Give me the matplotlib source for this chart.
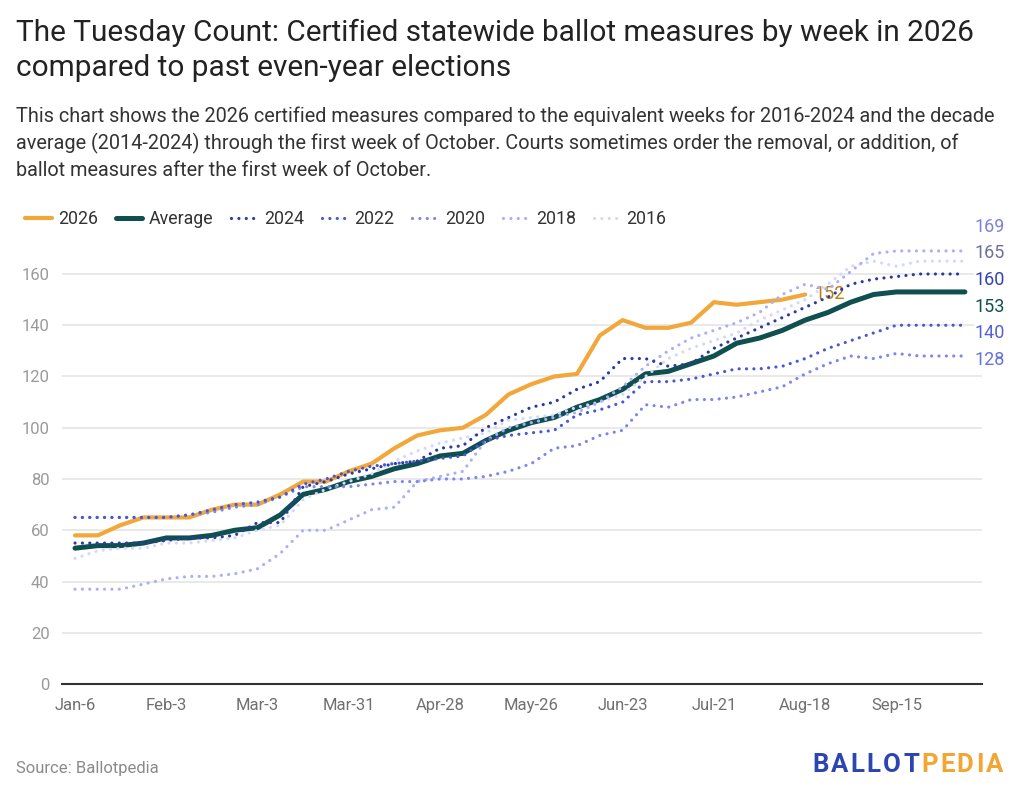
import matplotlib
matplotlib.use("Agg")
import matplotlib.pyplot as plt
import numpy as np

plt.rcParams['font.family'] = ['Roboto', 'DejaVu Sans']

# ---------------- data ----------------
week_index = list(range(40))  # weekly Tuesdays, Jan-6 .. Oct-6
tick_positions = [0, 4, 8, 12, 16, 20, 24, 28, 32, 36]
tick_labels = ["Jan-6", "Feb-3", "Mar-3", "Mar-31", "Apr-28", "May-26",
               "Jun-23", "Jul-21", "Aug-18", "Sep-15"]

y2026 = [58, 58, 62, 65, 65, 65, 68, 70, 70, 74, 79, 79, 83, 86, 92, 97, 99, 100,
         105, 113, 117, 120, 121, 136, 142, 139, 139, 141, 149, 148, 149, 150, 152]
avg = [53, 54, 54, 55, 57, 57, 58, 60, 61, 66, 74, 76, 79, 81, 84, 86, 89, 90, 95, 99,
       102, 104, 108, 111, 115, 121, 122, 125, 128, 133, 135, 138, 142, 145, 149, 152,
       153, 153, 153, 153]
y2024 = [55, 55, 55, 55, 56, 57, 57, 58, 63, 63, 77, 79, 82, 84, 86, 87, 92, 93, 100, 104,
         108, 110, 115, 118, 127, 127, 124, 125, 131, 135, 139, 143, 147, 151, 156, 158,
         159, 160, 160, 160]
y2022 = [65, 65, 65, 65, 65, 66, 68, 70, 71, 73, 78, 80, 83, 85, 86, 87, 88, 89, 95, 97,
         98, 99, 105, 107, 110, 118, 118, 119, 121, 123, 123, 124, 127, 131, 134, 137,
         140, 140, 140, 140]
y2020 = [65, 65, 65, 65, 65, 66, 67, 69, 70, 73, 77, 77, 77, 78, 79, 79, 80, 80, 81, 83,
         86, 92, 93, 97, 99, 109, 108, 111, 111, 112, 114, 116, 121, 125, 128, 127, 129,
         128, 128, 128]
y2018 = [37, 37, 37, 39, 41, 42, 42, 43, 45, 51, 60, 60, 64, 68, 69, 79, 81, 83, 95, 100,
         102, 104, 106, 110, 116, 124, 130, 135, 138, 141, 145, 152, 156, 154, 161, 168,
         169, 169, 169, 169]
y2016 = [49, 52, 53, 53, 55, 55, 56, 57, 60, 62, 72, 76, 79, 82, 87, 91, 94, 96, 98, 103,
         104, 105, 108, 110, 113, 120, 127, 131, 134, 137, 142, 146, 150, 156, 163, 165,
         163, 165, 165, 165]

series_names = ["2026", "Average", "2024", "2022", "2020", "2018", "2016"]

# ---------------- style ----------------
c2026 = "#f2a73b"
cavg = "#0f4f50"
dotted_colors = {"2024": "#2b3aa0", "2022": "#4858d2", "2020": "#7c87ec",
                 "2018": "#aab0f6", "2016": "#d5d8fb"}
label_colors = {"2018": "#7c82d8", "2016": "#6d6f9c", "2024": "#3343ae",
                "Average": "#0f5051", "2022": "#5462d4", "2020": "#6673dc"}

fig = plt.figure(figsize=(10.24, 7.96), dpi=100)
W, H = 1024, 796
ax = fig.add_axes([62 / W, (H - 684) / H, 920 / W, 440.75 / H])

x = np.array(week_index)
dot = (0, (0.01, 2.3))
lines = {}
lines["2026"], = ax.plot(x[:len(y2026)], y2026, color=c2026, lw=3.0,
                         solid_capstyle='round', solid_joinstyle='round', zorder=3)
lines["Average"], = ax.plot(x, avg, color=cavg, lw=3.6,
                            solid_capstyle='round', solid_joinstyle='round', zorder=3)
series_data = {"2024": y2024, "2022": y2022, "2020": y2020, "2018": y2018, "2016": y2016}
zorders = {"2016": 4, "2018": 5, "2020": 6, "2022": 7, "2024": 8}
for name in ["2016", "2018", "2020", "2022", "2024"]:
    ln, = ax.plot(x, series_data[name], color=dotted_colors[name], lw=2.3,
                  linestyle=dot, dash_capstyle='round', zorder=zorders[name])
    lines[name] = ln

ax.set_xlim(-0.57, 39.75)
ax.set_ylim(0, 172)
ax.set_yticks(range(0, 161, 20))
ax.set_xticks(tick_positions)
ax.set_xticklabels(tick_labels)
ax.tick_params(axis='both', length=0)
ax.tick_params(axis='y', pad=9, labelsize=12, labelcolor="#9a9a9a")
ax.tick_params(axis='x', pad=10, labelsize=12, labelcolor="#707070")
for t in ax.get_yticklabels():
    t.set_horizontalalignment('right')
ax.grid(axis='y', color="#e3e3e3", lw=1.1, zorder=0)
ax.set_axisbelow(True)
for s in ["top", "right", "left"]:
    ax.spines[s].set_visible(False)
ax.spines["bottom"].set_color("#333333")
ax.spines["bottom"].set_linewidth(1.5)
ax.spines["bottom"].set_zorder(2)

# end labels with simple cluster de-overlap
end_names = ["2020", "2022", "Average", "2024", "2016", "2018"]
end_vals = {"2024": y2024[-1], "2022": y2022[-1], "2020": y2020[-1],
            "2018": y2018[-1], "2016": y2016[-1], "Average": avg[-1]}
order = sorted(end_names, key=lambda n: end_vals[n])
gap = 10.4
clusters = [[n] for n in order]
changed = True
while changed:
    changed = False
    pos = []
    for cl in clusters:
        m = np.mean([end_vals[n] for n in cl])
        k = len(cl)
        pos.append([m + (i - (k - 1) / 2) * gap for i in range(k)])
    for i in range(len(clusters) - 1):
        if pos[i + 1][0] - pos[i][-1] < gap:
            clusters[i] = clusters[i] + clusters[i + 1]
            del clusters[i + 1]
            changed = True
            break
label_pos = {}
for cl in clusters:
    m = np.mean([end_vals[n] for n in cl])
    k = len(cl)
    for i, n in enumerate(cl):
        label_pos[n] = m + (i - (k - 1) / 2) * gap
for n in end_names:
    ax.annotate(str(end_vals[n]), xy=(x[-1], label_pos[n]), xytext=(7, 0),
                textcoords='offset points', va='center', ha='left',
                fontsize=13, color=label_colors[n], annotation_clip=False,
                bbox=dict(boxstyle='square,pad=0.05', fc='white', ec='none'))

ax.annotate(str(y2026[-1]), xy=(x[len(y2026) - 1], y2026[-1]), xytext=(7, 0),
            textcoords='offset points', va='center', ha='left', fontsize=13,
            color="#bd7a12")

# legend
handles = [lines[n] for n in series_names]
fig.legend(handles, series_names, loc='upper left',
           bbox_to_anchor=(9 / W, 1 - 194 / H), ncol=7, frameon=False,
           handlelength=1.5, handletextpad=0.35, columnspacing=1.0,
           fontsize=12.8, labelcolor="#333333")

# titles
fig.text(16 / W, 1 - 19 / H,
         "The Tuesday Count: Certified statewide ballot measures by week in 2026\n"
         "compared to past even-year elections",
         ha='left', va='top', fontsize=21.4, color="#222222", linespacing=1.3)
fig.text(16 / W, 1 - 106 / H,
         "This chart shows the 2026 certified measures compared to the equivalent weeks for 2016-2024 and the decade\n"
         "average (2014-2024) through the first week of October. Courts sometimes order the removal, or addition, of\n"
         "ballot measures after the first week of October.",
         ha='left', va='top', fontsize=14.3, color="#333333", linespacing=1.46)
fig.text(16 / W, 1 - 768 / H, "Source: Ballotpedia", ha='left', va='center',
         fontsize=12, color="#8a8a8a")

# letter-spaced logo text
fig.canvas.draw()
renderer = fig.canvas.get_renderer()
logo = [("BALLOT", "#2b45b2"), ("PEDIA", "#f2a530")]
chars = []
for word, col in logo:
    for ch in word:
        t = fig.text(0, 1 - 765 / H, ch, ha='left', va='center', fontsize=18.5,
                     fontweight='bold', color=col)
        chars.append(t)
widths = [t.get_window_extent(renderer=renderer).width for t in chars]
spacing = (191 - sum(widths)) / (len(chars) - 1)
xpos = 812.0
for t, w in zip(chars, widths):
    t.set_x(xpos / W)
    xpos += w + spacing

fig.savefig("out.png", dpi=100)
